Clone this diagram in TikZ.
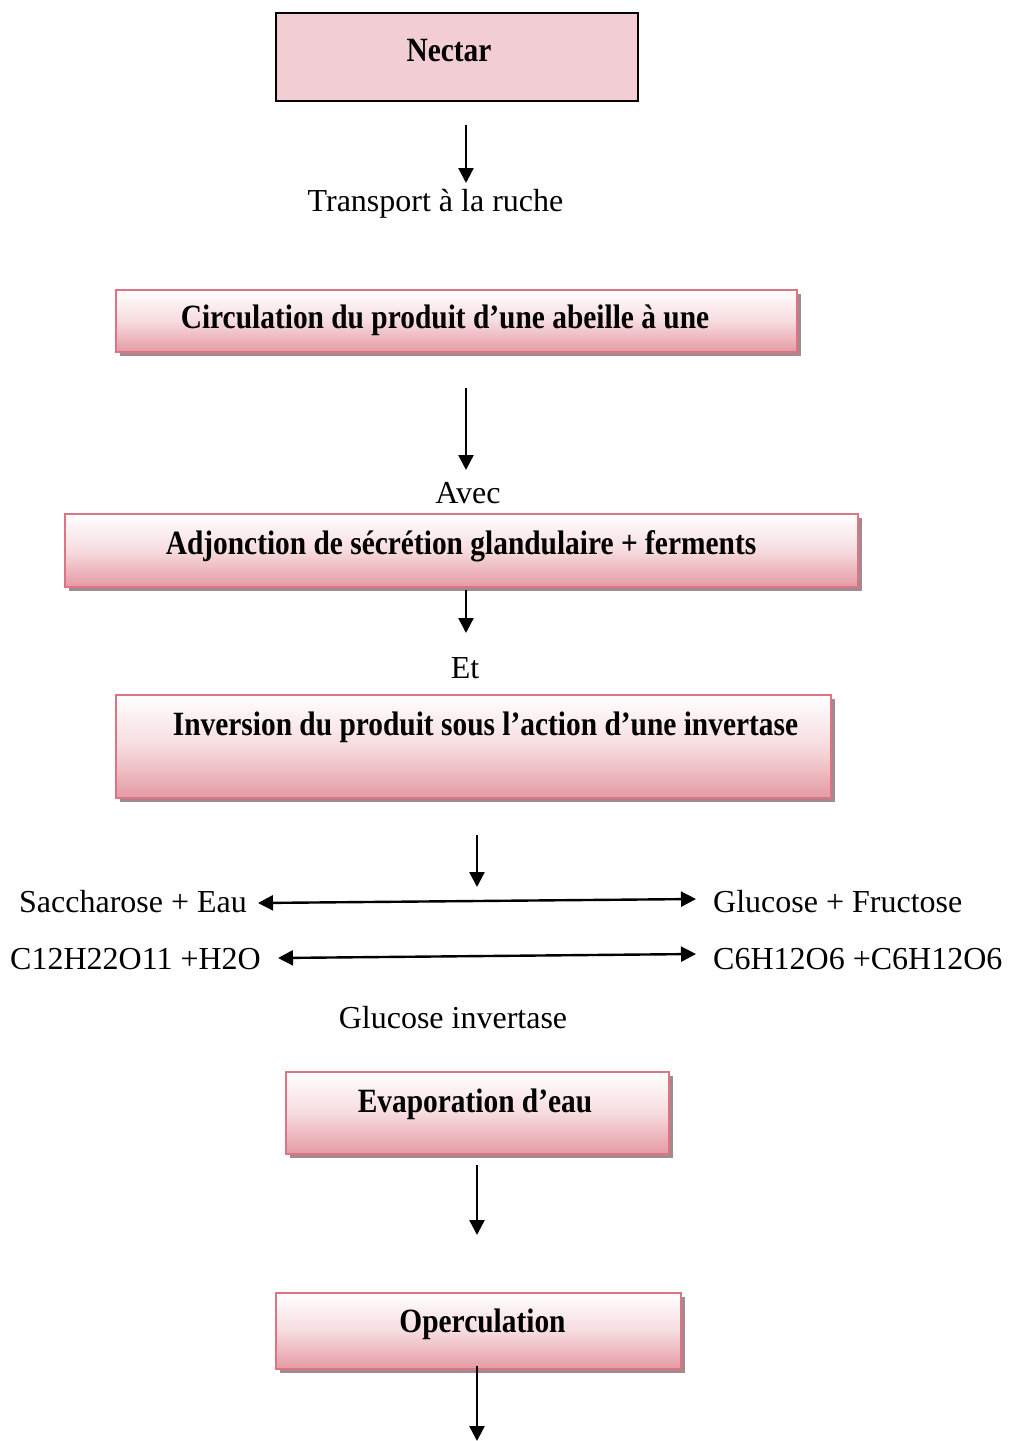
\documentclass[tikz,border=0pt]{standalone}
\usepackage{fontspec}
\setmainfont{Liberation Serif}
\newfontfamily\boxfont[FakeStretch=0.865]{Liberation Serif}
\usetikzlibrary{arrows.meta,shadows}
\definecolor{nectarfill}{HTML}{F2CDD3}
\definecolor{boxborder}{HTML}{DE7483}
\definecolor{boxbottom}{HTML}{E59AA3}
\definecolor{shadowgrey}{HTML}{A38A90}
\tikzset{
  nectarbox/.style={draw=black, line width=2.2pt, fill=nectarfill, inner sep=0pt},
  pinkbox/.style={draw=boxborder, line width=2.2pt, top color=white, bottom color=boxbottom,
    middle color=boxbottom!35, inner sep=0pt,
    drop shadow={shadow xshift=4pt, shadow yshift=-4pt, fill=shadowgrey, opacity=1}},
  boldtxt/.style={font=\boxfont\bfseries\fontsize{34}{40}\selectfont, inner sep=0pt, anchor=base},
  plaintxt/.style={font=\fontsize{32}{38}\selectfont, inner sep=0pt, anchor=base},
  flow/.style={line width=2.4pt, -{Triangle[length=15pt,width=15pt]}},
  both/.style={line width=2.4pt, {Triangle[length=15pt,width=15pt]}-{Triangle[length=15pt,width=15pt]}}
}
\begin{document}
\begin{tikzpicture}[x=1pt,y=-1pt]
\useasboundingbox (0,0) rectangle (1009,1441);
% boxes
\node[nectarbox, minimum width=362, minimum height=88] (b1) at (457,57) {};
\node[pinkbox, minimum width=681, minimum height=62] (b2) at (456.5,321) {};
\node[pinkbox, minimum width=793, minimum height=73] (b3) at (461.5,550.5) {};
\node[pinkbox, minimum width=715, minimum height=103] (b4) at (473.5,746.5) {};
\node[pinkbox, minimum width=383, minimum height=82] (b5) at (477.5,1113) {};
\node[pinkbox, minimum width=405, minimum height=76] (b6) at (478.5,1331) {};
% box texts
\node[boldtxt] (t1) at (449,61) {Nectar};
\node[boldtxt] (t2) at (445,328) {Circulation du produit d’une abeille à une};
\node[boldtxt] (t3) at (461,554) {Adjonction de sécrétion glandulaire + ferments};
\node[boldtxt] (t4) at (485.5,735) {Inversion du produit sous l’action d’une invertase};
\node[boldtxt] (t5) at (475,1112) {Evaporation d’eau};
\node[boldtxt] (t6) at (482.5,1332) {Operculation};
% plain labels
\node[plaintxt] (l1) at (435.5,211) {Transport à la ruche};
\node[plaintxt] (l2) at (468,503) {Avec};
\node[plaintxt] (l3) at (465,678) {Et};
\node[plaintxt, anchor=base west] (l4) at (19,912) {Saccharose + Eau};
\node[plaintxt, anchor=base west] (l5) at (713,912) {Glucose + Fructose};
\node[plaintxt, anchor=base west] (l6) at (10,969) {C12H22O11 +H2O};
\node[plaintxt, anchor=base west] (l7) at (713,969) {C6H12O6 +C6H12O6};
\node[plaintxt] (l8) at (453,1028) {Glucose invertase};
% arrow end points
\coordinate (a1s) at (466,125); \coordinate (a1e) at (466,183);
\coordinate (a2s) at (466,388); \coordinate (a2e) at (466,470);
\coordinate (a3s) at (466,590); \coordinate (a3e) at (466,633);
\coordinate (a4s) at (477,835); \coordinate (a4e) at (477,887);
\coordinate (h1l) at (258,903); \coordinate (h1r) at (696,899);
\coordinate (h2l) at (278,958); \coordinate (h2r) at (696,954);
\coordinate (a5s) at (477,1165); \coordinate (a5e) at (477,1235);
\coordinate (a6s) at (477,1366); \coordinate (a6e) at (477,1441);
% arrows
\draw[flow] (a1s) -- (a1e);
\draw[flow] (a2s) -- (a2e);
\draw[flow] (a3s) -- (a3e);
\draw[flow] (a4s) -- (a4e);
\draw[both] (h1l) -- (h1r);
\draw[both] (h2l) -- (h2r);
\draw[flow] (a5s) -- (a5e);
\draw[flow] (a6s) -- (a6e);
\end{tikzpicture}
\end{document}
